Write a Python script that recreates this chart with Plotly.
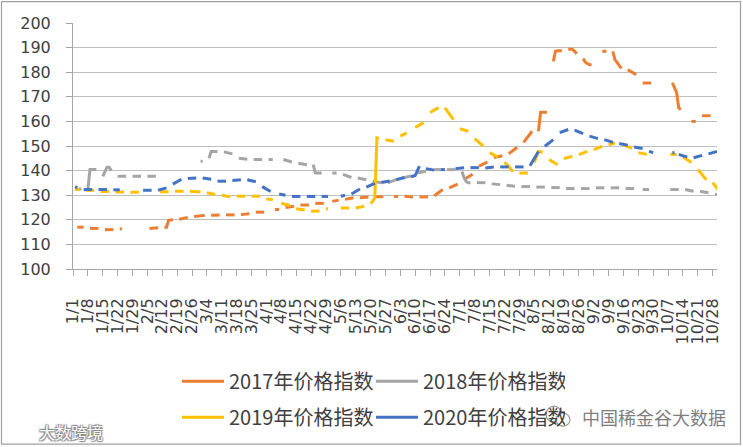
import datetime as dt
import plotly.graph_objects as go

# ---------------- data ----------------
tick_labels = ["1/1", "1/8", "1/15", "1/22", "1/29", "2/5", "2/12", "2/19", "2/26",
               "3/4", "3/11", "3/18", "3/25", "4/1", "4/8", "4/15", "4/22", "4/29",
               "5/6", "5/13", "5/20", "5/27", "6/3", "6/10", "6/17", "6/24", "7/1",
               "7/8", "7/15", "7/22", "7/29", "8/5", "8/12", "8/19", "8/26", "9/2",
               "9/9", "9/16", "9/23", "9/30", "10/7", "10/14", "10/21", "10/28"]

series_names = ["2017年价格指数", "2018年价格指数", "2019年价格指数", "2020年价格指数"]
series_years = [2017, 2018, 2019, 2020]

# weekly values (Mon..Fri of each week, from the first week of the year);
# one number = flat week, list = values spread over that week's trading days
w2017 = [117, 116.5, 116, 116.3, None, [116.5, 116.8], [117, 117, 119.8, 120, 120],
         [120.2, 120.5, 121], [121.3, 121.8], [121.8, 122], 122, [122.1, 122.5], 123.1,
         124.2, [125, 125.5], 126, 126.7, [127.5, 128], [128.3, 129], [129, 129.3], 129.4,
         129.5, [129.6, 129.3], 129.3, [129.8, 131, 132.3], [133, 134.5], [136.4, 138.5],
         [141.8, 143.5], [145.3, 146], [146.8, 149.5], [151.5, 156],
         [156, 163.7, 163.7, 163.7, 163.7], [184.4, 188.5, 188.7, 188.7, 188.7],
         [189.3, 189.3, 189.3, 188.5, 187.5], [185.5, 184.2, 183.5, 183, 183], 188.5,
         [188.5, 185, 184, 182.5, 181.5], [181, 180.5, 180, 179.5, 179], 175.6, None,
         [175.7, 173.5, 171.7, 165.5, 164.8], 160, 162.3, None]

w2018 = [132.5, [132.5, 140.4, 140.4, 140.4, 140.4], [137.7, 139.5, 141.4, 141.4, 140],
         137.7, 137.7, 137.7, None, None, 143.8, [145, 147.8, 147.8, 147.8, 147.8],
         [147.6, 147.4, 147.2, 147, 146.8], [145, 144.6], 144.5, 144.5, [144.5, 143.5],
         [143, 142.4], [142.4, 139.1, 139, 139, 139], 139, [138.5, 137.2], [137, 136.3],
         [135.7, 135.1], [135, 136.3], [137, 137.8], [139, 139.7], 140.4, 140.4,
         [139.6, 137, 135.5, 135.1, 135.1], 135.1, [134.6, 134.3], [134, 133.6], 133.5,
         133.3, 133.1, 132.7, 132.7, 133, 133, 132.7, 132.3, None, 132.3, [132.3, 131.6],
         [131.6, 131], 130.3]

w2019 = [132.4, 132, 131.5, 131.3, 131.2, None, 131.4, 131.6, [131.6, 131.3], [131, 130.3],
         [130, 129.4], 129.6, 129.6, [128.5, 128.2], [126.7, 125.8], [124.5, 124],
         [123.5, 123.6], 124.5, 124.8, [124.8, 125.5], [126.7, 127.5, 129, 153.3, 153],
         [152.5, 151.9], [154, 155.3], [157.5, 159.5], [163.6, 165.6], [165.5, 163, 160.7],
         [157, 156], [153, 150], [147.3, 145.5], [143.3, 141.8, 139.5], 139,
         [143.3, 147.8, 147.5], [144.5, 142.4], [144.9, 145.8], [146.5, 147.8],
         [148.5, 149.9], [150.5, 151.2], [150.5, 149], [147.3, 146.6], None, 146.6,
         [145.5, 143.3], [140.4, 136.3], [135.1, 131.6]]

w2020 = [[133.5, 133], 132.3, 132.3, 132.2, None, 132, [132, 133], [134.5, 136.5],
         [136.8, 137], [137, 136.5], 135.7, [136, 136.3], [136.3, 135.5], [133.5, 131.5],
         [130.5, 130], 129.5, 129.5, 129.5, [129.6, 130], [130.5, 132.5], [133.3, 134.8],
         [135.2, 135.8], [136.3, 137.2], [137.5, 138, 141.8], [140.8, 140.2], 140.4,
         [140.8, 141.2], 141.2, [141.1, 141.5], 141.5, 141.5, [142, 147.8], [149.9, 152.6],
         [155.4, 156.7], [156.5, 155], [154, 153], [152.6, 151.5], [151, 150.3],
         [149.6, 149], [147.8, 147.3], 147.3, [146.6, 145.5], [145.2, 146.2], [146.8, 147.8]]

# days without data (holidays / gaps), as (first, last) m/d
missing_2017 = [("1/2", "1/2"), ("1/25", "2/3"), ("4/3", "4/4"), ("5/1", "5/1"), ("5/29", "5/30"),
                ("9/4", "9/5"), ("10/2", "10/6"), ("10/16", "10/17"), ("10/30", "10/31")]
missing_2018 = [("1/1", "1/1"), ("2/12", "2/28"), ("4/5", "4/6"), ("4/30", "5/1"), ("6/18", "6/18"),
                ("9/24", "9/24"), ("10/1", "10/5")]
missing_2019 = [("1/1", "1/1"), ("2/4", "2/8"), ("4/5", "4/5"), ("5/1", "5/3"), ("6/7", "6/7"),
                ("9/13", "9/13"), ("9/30", "10/7")]
missing_2020 = [("1/1", "1/1"), ("1/24", "1/31"), ("4/6", "4/6"), ("5/1", "5/5"), ("6/25", "6/26"),
                ("10/1", "10/8")]
extra_days_2020 = ["10/10"]

series_weeks = [w2017, w2018, w2019, w2020]
series_missing = [missing_2017, missing_2018, missing_2019, missing_2020]
series_extra = [[], [], [], extra_days_2020]
series_colors = ["#ED7D31", "#A5A5A5", "#FFC000", "#4472C4"]
series_legend = ["legend", "legend", "legend2", "legend2"]


# ---------------- helpers ----------------
def md(year, s):
    m, d = s.split("/")
    return dt.date(year, int(m), int(d))


def axis_pos(day):
    # position on a month/day category axis (leap-year calendar, 1/1 = 0)
    return (dt.date(2020, day.month, day.day) - dt.date(2020, 1, 1)).days


def build(year, weeks, missing, extra):
    start, end = dt.date(year, 1, 1), dt.date(year, 10, 31)
    miss = set()
    for a, b in missing:
        d0, d1 = md(year, a), md(year, b)
        while d0 <= d1:
            miss.add(d0)
            d0 += dt.timedelta(days=1)
    extras = {md(year, s) for s in extra}
    if start.weekday() < 5:
        first_mon = start - dt.timedelta(days=start.weekday())
    else:
        first_mon = start + dt.timedelta(days=7 - start.weekday())
    xs, ys = [], []
    for i, vals in enumerate(weeks):
        if vals is None:
            continue
        mon = first_mon + dt.timedelta(days=7 * i)
        days = []
        for k in range(7):
            d = mon + dt.timedelta(days=k)
            if (d.weekday() < 5 or d in extras) and start <= d <= end and d not in miss:
                days.append(d)
        if not days:
            continue
        if not isinstance(vals, (list, tuple)):
            vals = [vals, vals]
        n = len(days)
        L = len(vals)
        for j, v in enumerate(vals):
            idx = round(j * (n - 1) / (L - 1)) if L > 1 else 0
            xs.append(axis_pos(days[idx]))
            ys.append(v)
        xs.append(None)
        ys.append(None)
    return xs, ys


tick_vals = [axis_pos(md(2020, s)) for s in tick_labels]

# ---------------- figure ----------------
W, H = 743, 447
L_, R_, T_, B_ = 73, 26, 23, 177.5
pw, ph = W - L_ - R_, H - T_ - B_


def px(x):
    return (x - L_) / pw


def py(y):
    return (H - B_ - y) / ph


fig = go.Figure()
for name, year, weeks, miss, extra, color, lg in zip(series_names, series_years, series_weeks,
                                                      series_missing, series_extra,
                                                      series_colors, series_legend):
    xs, ys = build(year, weeks, miss, extra)
    fig.add_trace(go.Scatter(x=xs, y=ys, mode="lines", name=name, legend=lg,
                             line=dict(color=color, width=3), connectgaps=False,
                             hoverinfo="skip"))

axis_font = dict(family="DejaVu Sans", size=16, color="#404040")
leg_font = dict(family="Noto Sans CJK SC", size=20, color="#404040")

fig.update_layout(
    width=W, height=H,
    margin=dict(l=L_, r=R_, t=T_, b=B_, pad=0, autoexpand=False),
    paper_bgcolor="white", plot_bgcolor="white",
    showlegend=True,
    legend=dict(orientation="h", x=px(177), xanchor="left", y=py(382), yanchor="middle",
                font=leg_font, itemwidth=42, entrywidth=137, entrywidthmode="pixels",
                bgcolor="rgba(0,0,0,0)", tracegroupgap=0),
    legend2=dict(orientation="h", x=px(177), xanchor="left", y=py(418), yanchor="middle",
                 font=leg_font, itemwidth=42, entrywidth=137, entrywidthmode="pixels",
                 bgcolor="rgba(0,0,0,0)", tracegroupgap=0),
    xaxis=dict(range=[0, 303], tickmode="array", tickvals=tick_vals, ticktext=tick_labels,
               tickangle=-90, tickfont=axis_font, ticks="outside", ticklen=6,
               tickcolor="#A6A6A6", showline=True, linecolor="#A6A6A6", linewidth=1,
               showgrid=False, zeroline=False, ticklabelstandoff=16, automargin=False),
    yaxis=dict(range=[100, 200], dtick=10, tickfont=axis_font, ticks="outside", ticklen=6,
               tickcolor="#A6A6A6", showline=True, linecolor="#A6A6A6", linewidth=1,
               showgrid=True, gridcolor="#BFBFBF", gridwidth=1, zeroline=False,
               ticklabelstandoff=12, automargin=False),
)

# outer frame of the picture
fig.add_shape(type="rect", xref="paper", yref="paper",
              x0=px(1.5), x1=px(740.5), y0=py(445), y1=py(1.5),
              line=dict(color="#A0A0A0", width=1.2), fillcolor="rgba(0,0,0,0)", layer="above")

# watermarks
fig.add_shape(type="circle", xref="paper", yref="paper",
              x0=px(546), x1=px(562), y0=py(423), y1=py(407),
              line=dict(color="#9A9A9A", width=1.2), fillcolor="white", layer="above")
fig.add_shape(type="circle", xref="paper", yref="paper",
              x0=px(556), x1=px(570), y0=py(427), y1=py(414),
              line=dict(color="#9A9A9A", width=1.2), fillcolor="white", layer="above")
fig.add_annotation(x=px(580), y=py(418), xref="paper", yref="paper", xanchor="left",
                   yanchor="middle", text="中国稀金谷大数据", showarrow=False,
                   font=dict(family="Noto Sans CJK SC", size=18, color="#7F7F7F"))
fig.add_annotation(x=px(37), y=py(433), xref="paper", yref="paper", xanchor="left",
                   yanchor="middle", text="大数跨境", showarrow=False,
                   font=dict(family="Noto Sans CJK SC", size=16, color="white",
                             shadow="1px 1px 1px #8a8a8a, -1px -1px 1px #8a8a8a, 1px -1px 1px #8a8a8a, -1px 1px 1px #8a8a8a"))

fig.write_html("out.html", config={"displayModeBar": False},
               post_script="document.body.style.margin='0px';document.body.style.overflow='hidden';")
